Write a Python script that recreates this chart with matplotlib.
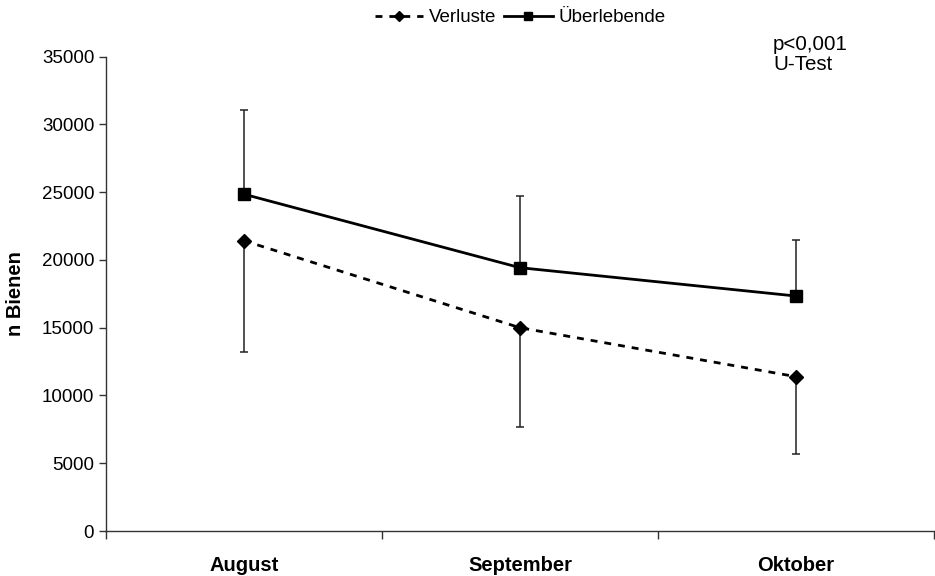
import matplotlib
matplotlib.use("Agg")
import matplotlib.pyplot as plt
import numpy as np

plt.rcParams['font.family'] = ['Liberation Sans', 'DejaVu Sans']

months = ['August', 'September', 'Oktober']
verluste = [21420, 15000, 11390]
verluste_err = [8190, 7350, 5700]        # only downward
ueberlebende = [24850, 19430, 17340]
ueberlebende_err = [6220, 5290, 4130]    # only upward

x = np.arange(len(months))
zeros = np.zeros(len(months))

fig = plt.figure(figsize=(9.35, 5.76), dpi=100)
ax = fig.add_axes([0.1134, 0.0781, 0.8855, 0.8235])

ax.errorbar(x, verluste, yerr=[verluste_err, zeros], fmt='none',
            ecolor='#222222', elinewidth=1.1, capsize=3, capthick=1.1)
ax.errorbar(x, ueberlebende, yerr=[zeros, ueberlebende_err], fmt='none',
            ecolor='#222222', elinewidth=1.1, capsize=3, capthick=1.1)

ax.plot(x, verluste, color='black', lw=2, linestyle=(0, (2.5, 2.5)),
        marker='D', markersize=7, label='Verluste')
ax.plot(x, ueberlebende, color='black', lw=2, linestyle='-',
        marker='s', markersize=8, label='Überlebende')

ax.set_xlim(-0.5, 2.5)
ax.set_ylim(0, 35000)
ax.set_yticks(np.arange(0, 35001, 5000))
ax.tick_params(axis='y', labelsize=13.5, direction='out', length=5, width=1, color='#333333')

# category boundaries as ticks, names in the middle
ax.set_xticks([-0.5, 0.5, 1.5, 2.5])
ax.set_xticklabels([])
ax.set_xticks(x, minor=True)
ax.set_xticklabels(months, minor=True, fontsize=14.5, fontweight='bold')
ax.tick_params(axis='x', which='major', direction='out', length=6, width=1, color='#333333')
ax.tick_params(axis='x', which='minor', length=0, pad=18)

for s in ['top', 'right']:
    ax.spines[s].set_visible(False)
for s in ['left', 'bottom']:
    ax.spines[s].set_color('#333333')
    ax.spines[s].set_linewidth(1)

ax.set_ylabel('n Bienen', fontsize=14.5, fontweight='bold', labelpad=12)

ax.legend(loc='center', bbox_to_anchor=(0.5, 1.082), ncol=2, frameon=False,
          fontsize=13.5, handlelength=2.6, handletextpad=0.3, columnspacing=0.4,
          markerscale=0.75)

fig.text(773 / 935, 1 - 35 / 576, 'p<0,001\nU-Test', fontsize=14.8, va='top', ha='left',
         linespacing=1.1)

plt.savefig('out.png', dpi=100)
